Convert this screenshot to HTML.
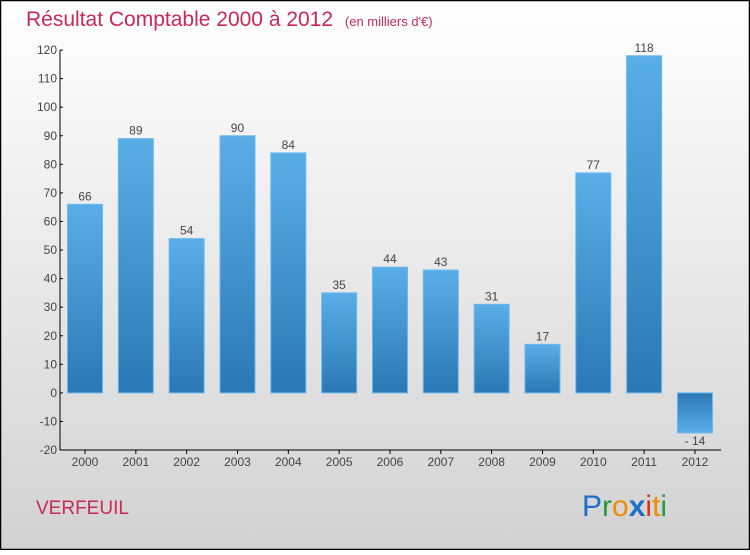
<!DOCTYPE html>
<html><head><meta charset="utf-8"><style>
html,body{margin:0;padding:0}
body{width:750px;height:550px;overflow:hidden;font-family:"Liberation Sans",sans-serif}
</style></head><body>
<svg id="chart" width="750" height="550" xmlns="http://www.w3.org/2000/svg">
<defs>
<linearGradient id="bg" x1="0" y1="0" x2="0" y2="1"><stop offset="0" stop-color="#ffffff"/><stop offset="1" stop-color="#d2d2d2"/></linearGradient>
<linearGradient id="pos" x1="0" y1="0" x2="0" y2="1"><stop offset="0" stop-color="#5aaee8"/><stop offset="1" stop-color="#2a78b5"/></linearGradient>
<linearGradient id="neg" x1="0" y1="0" x2="0" y2="1"><stop offset="0" stop-color="#2a78b5"/><stop offset="1" stop-color="#5aaee8"/></linearGradient>
</defs>
<rect x="0.5" y="0.5" width="749" height="549" fill="url(#bg)" stroke="#000" stroke-width="1.5"/>
<text x="26" y="26" font-size="21" fill="#c8285a">Résultat Comptable 2000 à 2012 <tspan font-size="13" dx="6">(en milliers d'€)</tspan></text>
<g id="axes"></g>
<g id="bars"></g>
<text x="36" y="514" font-size="19" fill="#c8285a">VERFEUIL</text>
<g font-size="30" font-family="Liberation Sans, sans-serif">
<text x="582" y="516"><tspan fill="#1a6fc8">P</tspan><tspan fill="#2a9a3a">r</tspan><tspan fill="#f08a00">o</tspan><tspan fill="#1a6fc8" font-weight="bold">x</tspan><tspan fill="#e03020">i</tspan><tspan fill="#f08a00">t</tspan><tspan fill="#2a9a3a">i</tspan></text>
</g>
</svg>
<script>
const years=["2000","2001","2002","2003","2004","2005","2006","2007","2008","2009","2010","2011","2012"];
const values=[66,89,54,90,84,35,44,43,31,17,77,118,-14];
const yTicks=[-20,-10,0,10,20,30,40,50,60,70,80,90,100,110,120];
const NS="http://www.w3.org/2000/svg";
const y=v=>392.9-v*(400/140);
const x=i=>85+i*50.83;
function mk(t,a,p,txt){const e=document.createElementNS(NS,t);for(const k in a)e.setAttribute(k,a[k]);if(txt!==undefined)e.textContent=txt;p.appendChild(e);return e;}
const ax=document.getElementById('axes'),bg=document.getElementById('bars');
const yl=mk('line',{x1:60,y1:y(120),x2:60,y2:y(-20),stroke:'#000'},ax);


const xl=mk('line',{x1:60,y1:y(-20),x2:721,y2:y(-20),stroke:'#000'},ax);


yTicks.forEach(v=>{
  mk('line',{x1:60,y1:y(v),x2:63,y2:y(v),stroke:'#000'},ax);
  const t=mk('text',{x:57,y:y(v)+4,'font-size':12,fill:'#444','text-anchor':'end'},ax,String(v));
  
  
});
years.forEach((yr,i)=>{
  mk('line',{x1:x(i),y1:y(-20),x2:x(i),y2:y(-20)+4,stroke:'#000'},ax);
  const t=mk('text',{x:x(i),y:y(-20)+16,'font-size':12,fill:'#444','text-anchor':'middle'},ax,yr);
  
  
  const v=values[i],top=Math.min(y(v),y(0)),h=Math.abs(y(v)-y(0));
  const r=mk('rect',{x:x(i)-17.5,y:top,width:35,height:h,fill:v>=0?'url(#pos)':'url(#neg)',stroke:'#6ab8ee','stroke-width':1},bg);
  
  
  const l=mk('text',{x:x(i),y:v>=0?y(v)-4:y(v)+12,'font-size':12,fill:'#444','text-anchor':'middle'},bg,v<0?'- '+Math.abs(v):String(v));
  
  
});
</script>
</body></html>
